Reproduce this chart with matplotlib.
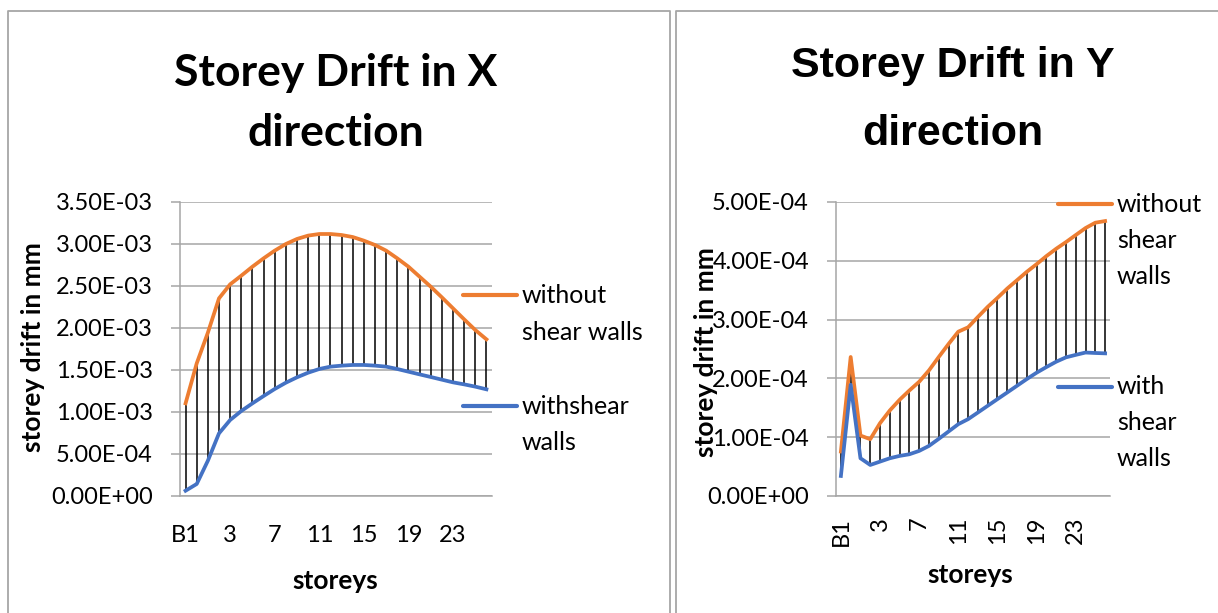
import numpy as np
import matplotlib
matplotlib.use("Agg")
import matplotlib.pyplot as plt
from matplotlib.lines import Line2D
from matplotlib.ticker import FuncFormatter

plt.rcParams["font.family"] = ["Lato", "DejaVu Sans"]

W, H = 1218, 613

storeys = ["B1", "G", "1", "2", "3", "4", "5", "6", "7", "8", "9", "10", "11", "12",
           "13", "14", "15", "16", "17", "18", "19", "20", "21", "22", "23", "24", "25", "26"]

# storey drift in X direction (values x 1e-3)
drift_x_without = [1.103, 1.579, 1.944, 2.353, 2.520, 2.623, 2.730, 2.829, 2.921, 3.000,
                   3.060, 3.100, 3.119, 3.119, 3.107, 3.083, 3.040, 2.988, 2.921, 2.829,
                   2.730, 2.611, 2.492, 2.365, 2.234, 2.103, 1.976, 1.865]
drift_x_with = [0.063, 0.143, 0.420, 0.746, 0.905, 1.012, 1.103, 1.190, 1.274, 1.349,
                1.413, 1.468, 1.512, 1.540, 1.552, 1.560, 1.560, 1.552, 1.540, 1.512,
                1.480, 1.448, 1.417, 1.385, 1.353, 1.329, 1.302, 1.270]

# storey drift in Y direction (values x 1e-4)
drift_y_without = [0.756, 2.364, 1.028, 0.966, 1.239, 1.455, 1.636, 1.795, 1.943, 2.136,
                   2.364, 2.585, 2.795, 2.869, 3.045, 3.216, 3.369, 3.528, 3.670, 3.813,
                   3.943, 4.080, 4.205, 4.318, 4.438, 4.557, 4.648, 4.676]
drift_y_with = [0.341, 1.892, 0.642, 0.528, 0.585, 0.642, 0.682, 0.710, 0.767, 0.852,
                0.972, 1.097, 1.222, 1.307, 1.420, 1.534, 1.648, 1.761, 1.875, 1.989,
                2.097, 2.193, 2.284, 2.358, 2.400, 2.440, 2.432, 2.426]

ORANGE = "#ED7D31"
BLUE = "#4472C4"
GRID = "#a6a6a6"


def fx(px):
    return px / W


def fy(py):
    return 1 - py / H


def draw_panel(ax, without, with_, scale, ymax, ystep, rotate):
    x = np.arange(len(storeys))
    without = np.array(without) * scale
    with_ = np.array(with_) * scale
    ax.vlines(x, with_, without, color="black", lw=1.1, zorder=2)
    ax.plot(x, without, color=ORANGE, lw=2.7, zorder=3)
    ax.plot(x, with_, color=BLUE, lw=2.7, zorder=3)

    ax.set_xlim(-0.5, len(storeys) - 0.5)
    ax.set_ylim(0, ymax)
    ax.set_yticks(np.arange(0, ymax + ystep / 2, ystep))
    ax.yaxis.set_major_formatter(FuncFormatter(lambda v, p: f"{v:.2E}"))
    ax.set_xticks(x[::4])
    ax.set_xticklabels(storeys[::4], rotation=90 if rotate else 0)

    ax.grid(axis="y", color=GRID, lw=1.1)
    ax.set_axisbelow(True)
    for s in ["top", "right"]:
        ax.spines[s].set_visible(False)
    for s in ["left", "bottom"]:
        ax.spines[s].set_color(GRID)
        ax.spines[s].set_linewidth(1.1)
    ax.tick_params(axis="y", length=6.5, width=1.1, color=GRID, pad=13, labelsize=17)
    ax.tick_params(axis="x", length=0, pad=21 if not rotate else 15, labelsize=17)

    ax.set_ylabel("storey drift in mm", fontsize=19, fontweight="bold")
    ax.set_xlabel("storeys", fontsize=19, fontweight="bold")


fig = plt.figure(figsize=(W / 100, H / 100), dpi=100)

ax1 = fig.add_axes([fx(180), fy(496), (492 - 180) / W, (496 - 202) / H])
ax2 = fig.add_axes([fx(836), fy(496), (1110 - 836) / W, (496 - 202) / H])

draw_panel(ax1, drift_x_without, drift_x_with, 1e-3, 3.5e-3, 0.5e-3, False)
draw_panel(ax2, drift_y_without, drift_y_with, 1e-4, 5e-4, 1e-4, True)

ax1.yaxis.set_label_coords(-0.471, 0.505)
ax1.xaxis.set_label_coords(0.497, -0.29)
ax2.yaxis.set_label_coords(-0.473, 0.49)
ax2.xaxis.set_label_coords(0.49, -0.27)
ax1.yaxis.label.set_va("center")
ax2.yaxis.label.set_va("center")
ax1.xaxis.label.set_va("center")
ax2.xaxis.label.set_va("center")

# titles
fig.text(fx(336), fy(103), "Storey Drift in X\ndirection", ha="center", va="center",
         fontsize=32, fontweight="bold", linespacing=1.6)
fig.text(fx(953), fy(100), "Storey Drift in Y\ndirection", ha="center", va="center",
         fontsize=31, fontweight="bold", linespacing=1.9,
         family=["Liberation Sans", "DejaVu Sans"])

# panel borders
fig.add_artist(Line2D([fx(8), fx(8), fx(670), fx(670)], [0, fy(11), fy(11), 0],
                      color=GRID, lw=1.3))
fig.add_artist(Line2D([fx(676), fx(676), 1], [0, fy(11), fy(11)],
                      color=GRID, lw=1.3))


# legends
def legend_entry(x0, x1, y, color, lines, step):
    fig.add_artist(Line2D([fx(x0), fx(x1)], [fy(y), fy(y)], color=color, lw=3,
                          solid_capstyle="round"))
    for i, t in enumerate(lines):
        fig.text(fx(x1 + 5), fy(y + i * step), t, ha="left", va="center", fontsize=18)


legend_entry(463, 517, 295, ORANGE, ["without", "shear walls"], 37)
legend_entry(463, 517, 406, BLUE, ["withshear", "walls"], 37)
legend_entry(1058, 1112, 204, ORANGE, ["without", "shear", "walls"], 36.5)
legend_entry(1058, 1112, 387, BLUE, ["with", "shear", "walls"], 36)

fig.savefig("out.png", dpi=100)
